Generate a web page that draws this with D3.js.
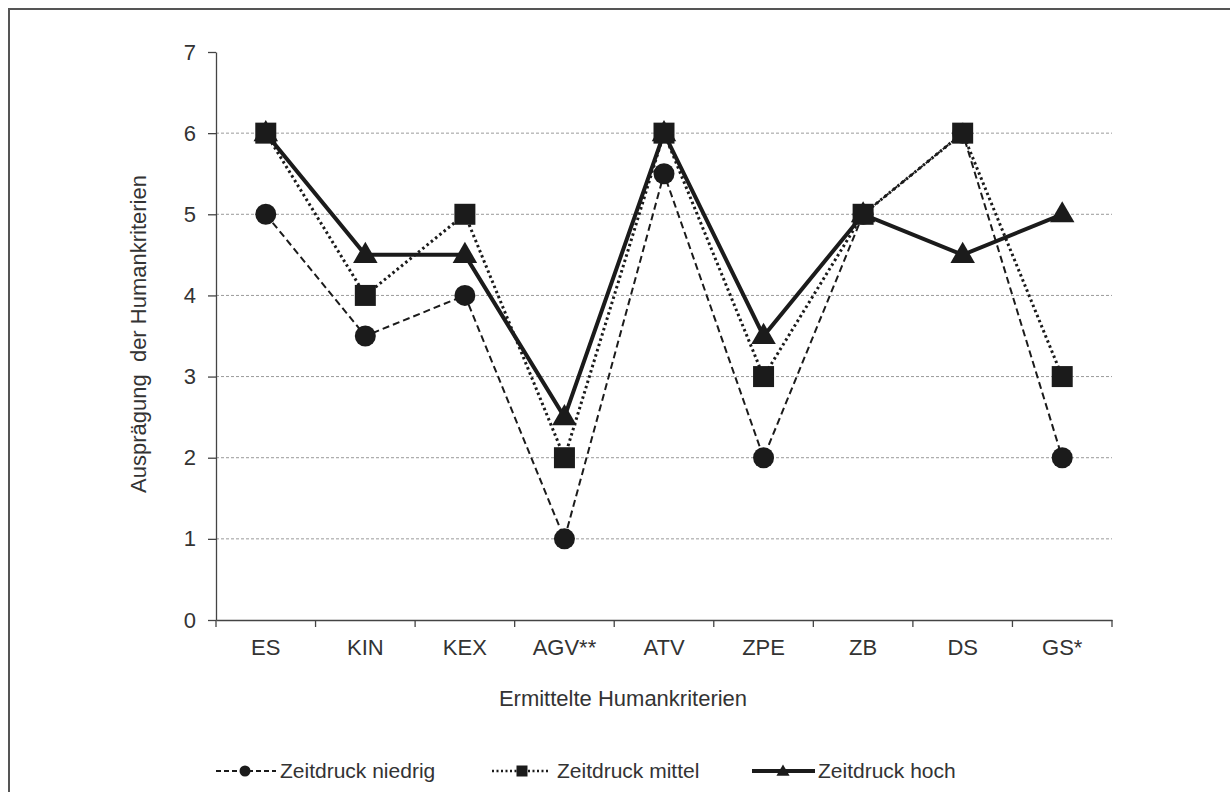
<!DOCTYPE html>
<html>
<head>
<meta charset="utf-8">
<script src="https://cdn.jsdelivr.net/npm/d3@7"></script>
<style>
  html, body { margin: 0; padding: 0; background: #fff; }
  svg { display: block; font-family: "Liberation Sans", Arial, sans-serif; }
</style>
</head>
<body>
<svg id="chart" width="1230" height="792"></svg>
<script>
const categories = ["ES", "KIN", "KEX", "AGV**", "ATV", "ZPE", "ZB", "DS", "GS*"];
const niedrig = [5, 3.5, 4, 1, 5.5, 2, 5, 6, 2];
const mittel  = [6, 4, 5, 2, 6, 3, 5, 6, 3];
const hoch    = [6, 4.5, 4.5, 2.5, 6, 3.5, 5, 4.5, 5];
const yTicks = [0, 1, 2, 3, 4, 5, 6, 7];
const seriesNames = ["Zeitdruck niedrig", "Zeitdruck mittel", "Zeitdruck hoch"];
const yTitle = "Ausprägung\u00a0 der Humankriterien";
const xTitle = "Ermittelte Humankriterien";

const svg = d3.select("#chart");
const ink = "#1b1b1b";
const textCol = "#333";

// frame
svg.append("path")
  .attr("d", "M9,800 L9,9 L1240,9")
  .attr("fill", "none").attr("stroke", "#555").attr("stroke-width", 2);

const x0 = 216, x1 = 1112, yTop = 52, yBot = 620;
const x = d3.scaleBand().domain(categories).range([x0, x1]);
const y = d3.scaleLinear().domain([0, 7]).range([yBot, yTop]);

// grid lines
svg.append("g").selectAll("line")
  .data(yTicks.filter(t => t > 0 && t < 7))
  .join("line")
  .attr("x1", x0).attr("x2", x1)
  .attr("y1", d => y(d)).attr("y2", d => y(d))
  .attr("stroke", "#9a9a9a").attr("stroke-width", 1)
  .attr("stroke-dasharray", "3,2");

// y axis
const yAxis = svg.append("g").attr("transform", `translate(${x0},0)`)
  .call(d3.axisLeft(y).tickValues(yTicks).tickFormat(d3.format("d"))
    .tickSize(8).tickPadding(12).tickSizeOuter(0));
yAxis.select(".domain").attr("stroke", "#444").attr("stroke-width", 1.3);
yAxis.selectAll(".tick line").attr("stroke", "#444").attr("stroke-width", 1.3);
yAxis.selectAll(".tick text").attr("fill", textCol).style("font-size", "22px")
  .style("font-family", "'Liberation Sans', Arial, sans-serif");

// x axis
const xAxis = svg.append("g").attr("transform", `translate(0,${yBot})`)
  .call(d3.axisBottom(x).tickSize(0).tickPadding(19));
xAxis.select(".domain").attr("stroke", "#444").attr("stroke-width", 1.3);
xAxis.selectAll(".tick text").attr("fill", textCol).style("font-size", "22px")
  .style("font-family", "'Liberation Sans', Arial, sans-serif");
// boundary ticks between categories
const bounds = categories.map(c => x(c)).concat([x1]);
xAxis.append("g").selectAll("line").data(bounds).join("line")
  .attr("x1", d => d).attr("x2", d => d).attr("y1", 0).attr("y2", 7)
  .attr("stroke", "#444").attr("stroke-width", 1.3);

// titles
svg.append("text")
  .attr("transform", `translate(146,334) rotate(-90)`)
  .attr("text-anchor", "middle")
  .attr("fill", textCol).style("font-size", "22px")
  .text(yTitle);
svg.append("text")
  .attr("x", 623).attr("y", 706)
  .attr("text-anchor", "middle")
  .attr("fill", textCol).style("font-size", "22px")
  .text(xTitle);

const cx = c => x(c) + x.bandwidth() / 2;
const line = d3.line().x(d => cx(d.c)).y(d => y(d.v));
const toPts = arr => categories.map((c, i) => ({ c, v: arr[i] }));

const styles = [
  { data: niedrig, width: 2, dash: "7,4" },
  { data: mittel, width: 3, dash: "2.5,3" },
  { data: hoch, width: 4, dash: null }
];
styles.forEach(s => {
  svg.append("path").datum(toPts(s.data))
    .attr("d", line).attr("fill", "none")
    .attr("stroke", ink).attr("stroke-width", s.width)
    .attr("stroke-dasharray", s.dash);
});

const circleSym = d3.symbol().type(d3.symbolCircle);
const squareSym = d3.symbol().type(d3.symbolSquare);
const triSym = d3.symbol().type(d3.symbolTriangle);

// markers: niedrig, hoch, mittel (mittel on top)
svg.append("g").selectAll("path").data(toPts(niedrig)).join("path")
  .attr("transform", d => `translate(${cx(d.c)},${y(d.v)})`)
  .attr("d", circleSym.size(Math.PI * 10.5 * 10.5)()).attr("fill", ink);
svg.append("g").selectAll("path").data(toPts(hoch)).join("path")
  .attr("transform", d => `translate(${cx(d.c)},${y(d.v) + 1})`)
  .attr("d", triSym.size(260)()).attr("fill", ink);
svg.append("g").selectAll("path").data(toPts(mittel)).join("path")
  .attr("transform", d => `translate(${cx(d.c)},${y(d.v)})`)
  .attr("d", squareSym.size(21 * 21)()).attr("fill", ink);

// legend
const ly = 771;
const lg = svg.append("g");
// niedrig
lg.append("line").attr("x1", 216).attr("x2", 276).attr("y1", ly).attr("y2", ly)
  .attr("stroke", ink).attr("stroke-width", 2).attr("stroke-dasharray", "5,3");
lg.append("path").attr("transform", `translate(245,${ly})`)
  .attr("d", circleSym.size(Math.PI * 5.5 * 5.5)()).attr("fill", ink);
lg.append("text").attr("x", 280).attr("y", ly + 7).attr("fill", textCol)
  .style("font-size", "21px").text(seriesNames[0]);
// mittel
lg.append("line").attr("x1", 492).attr("x2", 548).attr("y1", ly).attr("y2", ly)
  .attr("stroke", ink).attr("stroke-width", 2.5).attr("stroke-dasharray", "2,2.5");
lg.append("path").attr("transform", `translate(522,${ly})`)
  .attr("d", squareSym.size(11 * 11)()).attr("fill", ink);
lg.append("text").attr("x", 557).attr("y", ly + 7).attr("fill", textCol)
  .style("font-size", "21px").text(seriesNames[1]);
// hoch
lg.append("line").attr("x1", 752).attr("x2", 815).attr("y1", ly).attr("y2", ly)
  .attr("stroke", ink).attr("stroke-width", 4);
lg.append("path").attr("transform", `translate(783,${ly + 1})`)
  .attr("d", triSym.size(75)()).attr("fill", ink);
lg.append("text").attr("x", 818).attr("y", ly + 7).attr("fill", textCol)
  .style("font-size", "21px").text(seriesNames[2]);
</script>
</body>
</html>
